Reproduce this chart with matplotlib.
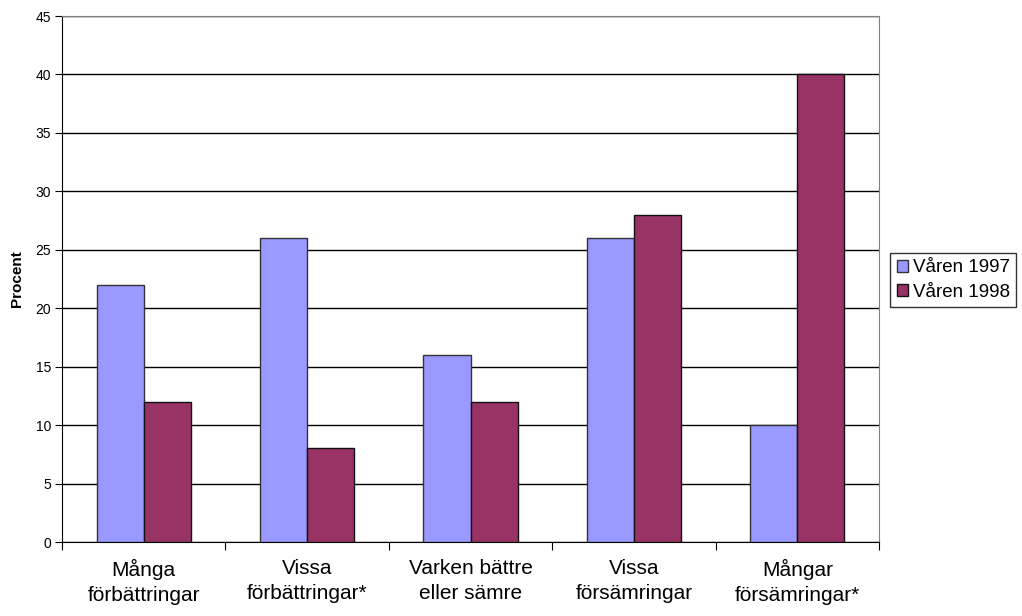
import matplotlib
matplotlib.use("Agg")
import matplotlib.pyplot as plt
import numpy as np

plt.rcParams['font.family'] = ['Liberation Sans', 'DejaVu Sans']

categories = ["Många\nförbättringar", "Vissa\nförbättringar*", "Varken bättre\neller sämre",
              "Vissa\nförsämringar", "Mångar\nförsämringar*"]
series_names = ["Våren 1997", "Våren 1998"]
v1997 = [22, 26, 16, 26, 10]
v1998 = [12, 8, 12, 28, 40]
yticks = list(range(0, 50, 5))

fig = plt.figure(figsize=(10.22, 6.16), dpi=100)
ax = fig.add_axes([62/1022, 74/616, (879-62)/1022, (542-16)/616])

x = np.arange(len(categories))
w = 0.288
ax.bar(x - w/2, v1997, w, color='#9999FF', edgecolor='#333333', linewidth=1, label=series_names[0], zorder=3)
ax.bar(x + w/2, v1998, w, color='#993366', edgecolor='#111111', linewidth=1, label=series_names[1], zorder=3)

ax.set_xlim(-0.5, len(categories) - 0.5)
ax.set_ylim(0, 45)
ax.set_yticks(yticks)
ax.set_yticklabels([str(t) for t in yticks], fontsize=10)
ax.yaxis.grid(True, color='black', linewidth=1, zorder=0)
ax.set_axisbelow(True)

ax.set_xticks(np.arange(-0.5, len(categories), 1.0))
ax.set_xticklabels([])
ax.set_xticks(x, minor=True)
ax.set_xticklabels(categories, minor=True, fontsize=15, linespacing=1.45)
ax.tick_params(axis='x', which='minor', length=0, pad=12)
ax.tick_params(axis='x', which='major', length=6, direction='out', color='black')
ax.tick_params(axis='y', length=5, direction='out', pad=3)

for s in ['top', 'right']:
    ax.spines[s].set_color('#808080')
for s in ['left', 'bottom']:
    ax.spines[s].set_color('black')

ax.set_ylabel("Procent", fontsize=11, fontweight='bold', labelpad=8)

leg = ax.legend(loc='center left', fontsize=13.5, frameon=True, fancybox=False, edgecolor='black',
                handlelength=0.6, handleheight=0.6, handletextpad=0.25, borderpad=0.35,
                labelspacing=0.4, borderaxespad=0)
leg.set_bbox_to_anchor((890/1022, (616-280)/616), transform=fig.transFigure)
leg.get_frame().set_linewidth(1)

fig.savefig("out.png", dpi=100)
